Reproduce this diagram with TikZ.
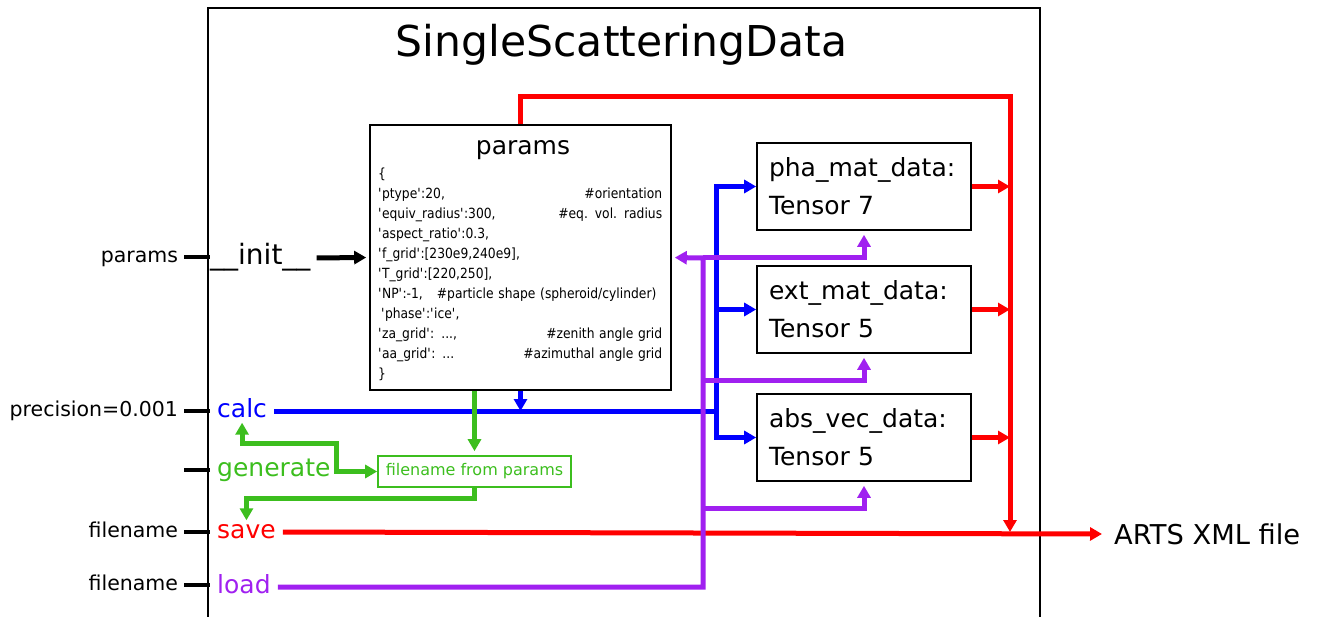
\documentclass[tikz,border=0pt]{standalone}
\usepackage{fontspec}
\setmainfont{DejaVu Sans}
\newfontfamily\codefont{DejaVu Sans}[FakeStretch=0.88]
\usetikzlibrary{arrows.meta,positioning}
\definecolor{ssblue}{RGB}{0,0,255}
\definecolor{ssred}{RGB}{255,0,0}
\definecolor{ssgreen}{RGB}{60,190,30}
\definecolor{sspurple}{RGB}{160,32,240}
\newcommand{\sq}{\textquotesingle}
\newcommand{\fsz}[2]{\fontsize{#1}{#2}\selectfont}

\begin{document}
\begin{tikzpicture}[x=1pt, y=-1pt,
    >={Triangle[length=12pt,width=13pt]},
    outer/.style={line width=2.2pt},
    tick/.style={line width=4pt},
    inp/.style={anchor=east, inner xsep=0pt, outer xsep=6pt, inner ysep=0pt,
                text height=15pt, text depth=4pt, font=\fsz{20.5}{24}},
    meth/.style={anchor=west, inner xsep=7pt, inner ysep=0pt,
                 text height=18pt, text depth=5pt, font=\fsz{25}{30}},
    dbox/.style={draw, line width=1.6pt, minimum width=214pt, minimum height=87pt,
                 text width=190pt, align=left, inner xsep=12pt, font=\fsz{25}{38}},
    code/.style={anchor=north west, text width=284pt, align=left, inner sep=4pt,
                 font=\codefont\fsz{14}{20}},
    arr/.style={line width=5pt, ->},
    wire/.style={line width=5pt},
  ]
  \useasboundingbox (0,0) rectangle (1317,617);

  % class frame
  \draw[outer] (208,625) -- (208,8) -- (1040,8) -- (1040,625);
  \node[anchor=base, font=\fsz{42.5}{50}] (title) at (621.5,57) {SingleScatteringData};

  % params dict
  \node[draw, line width=1.6pt, minimum width=301pt, minimum height=265pt] (params) at (520.5,257.5) {};
  \node[anchor=base, font=\fsz{25}{30}] (ptitle) at (523,155) {params};
  \node[code] (pcode) at (374,164) {\{\\
    \sq ptype\sq:20, \hfill \#orientation\\
    \sq equiv\_radius\sq:300, \hfill \#eq. vol. radius\\
    \sq aspect\_ratio\sq:0.3,\\
    \sq f\_grid\sq:[230e9,240e9],\\
    \sq T\_grid\sq:[220,250],\\
    \sq NP\sq:-1, \ \ \#particle shape (spheroid/cylinder)\\
    \hspace*{3pt}\sq phase\sq:\sq ice\sq,\\
    \sq za\_grid\sq: ..., \hfill \#zenith angle grid\\
    \sq aa\_grid\sq: ... \hfill \#azimuthal angle grid\\
    \}};

  % data members
  \node[dbox] (pha) at (864,186.5) {pha\_mat\_data:\\Tensor 7};
  \node[dbox] (ext) at (864,309.5) {ext\_mat\_data:\\Tensor 5};
  \node[dbox] (abs) at (864,437.5) {abs\_vec\_data:\\Tensor 5};
  \node[draw=ssgreen, line width=1.6pt, text=ssgreen, minimum width=193pt, minimum height=31pt,
        inner sep=0pt, font=\fsz{16}{19}] (fnbox) at (474.5,471.5) {filename from params};

  % methods
  \node[meth, inner xsep=0pt, font=\fsz{28}{32}] (init) at (210,258) {\_\_init\_\_};
  \node[meth, text=ssblue] (calc) at (210,411) {calc};
  \node[meth, text=ssgreen] (gen) at (210,470) {generate};
  \node[meth, text=ssred] (save) at (210,532) {save};
  \node[meth, text=sspurple] (load) at (210,587) {load};
  \node[anchor=west, inner xsep=9pt, font=\fsz{27.3}{32}] (xml) at (1105,534) {ARTS XML file};

  % arguments
  \node[inp] (pin) at (184,257) {params};
  \node[inp] (prec) at (184,411) {precision=0.001};
  \coordinate (gin) at (184,470);
  \node[inp] (fsave) at (184,532) {filename};
  \node[inp] (fload) at (184,585) {filename};
  \draw[tick] (pin.east) -- (pin.east -| init.west);
  \draw[tick] (prec.east) -- (prec.east -| calc.west);
  \draw[tick] (gin) -- (gen.west);
  \draw[tick] (fsave.east) -- (fsave.east -| save.west);
  \draw[tick] (fload.east) -- (fload.east -| load.west);

  \draw[arr, shorten <=6pt, shorten >=3pt] (init.east) -- (params.west);

  % calc
  \coordinate (bbus) at (716,411);
  \draw[wire, ssblue] (calc.east) -- (bbus);
  \draw[arr, ssblue] (bbus) |- (pha.west);
  \draw[arr, ssblue] (bbus) |- (abs.west);
  \draw[arr, ssblue] (bbus |- ext.west) -- (ext.west);
  \draw[arr, ssblue] (params.south) -- (params.south |- calc.east);

  % save
  \coordinate (rbus) at (1010,97);
  \draw[arr, ssred] (params.north) |- (rbus) -- (rbus |- save.east);
  \foreach \d in {pha,ext,abs}
    \draw[arr, ssred] (\d.east) -- (\d.east -| rbus);
  \draw[arr, ssred, shorten >=3pt] (save.east) -- (xml.west);

  % load
  \coordinate (pbus) at (703,258);
  \draw[arr, sspurple, shorten >=3pt] (load.east) -| (pbus) -- (params.east);
  \foreach \d in {pha,ext,abs}
    \draw[arr, sspurple, shorten >=4pt] (pbus |- \d.south) ++(0,27) -| (\d.south);

  % generate
  \coordinate (gbend) at (336,443);
  \draw[arr, ssgreen, shorten >=4pt] (fnbox.north |- params.south) -- (fnbox.north);
  \draw[arr, ssgreen] (fnbox.south) -- ++(0,11) -| (save.north);
  \draw[arr, ssgreen, <->] (calc.south) |- (gbend) |- (fnbox.west);
\end{tikzpicture}
\end{document}
